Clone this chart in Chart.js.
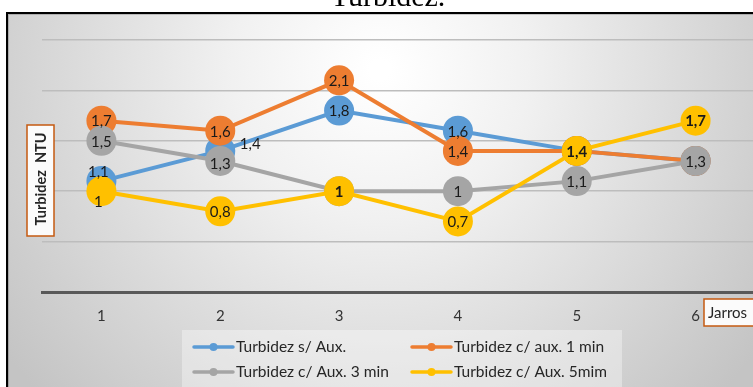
<!DOCTYPE html>
<html>
<head>
<meta charset="utf-8">
<script src="https://cdn.jsdelivr.net/npm/chart.js@4.4.1/dist/chart.umd.min.js"></script>
<style>
  html, body { margin: 0; padding: 0; overflow: hidden; background: #ffffff; }
  canvas { display: block; }
</style>
</head>
<body>
<canvas id="c" width="780" height="387"></canvas>
<script>
// Jarros (jar test) on the category axis
const jarros = ['1', '2', '3', '4', '5', '6'];

// Turbidity readings (NTU) per jar
const semAux    = [1.1, 1.4, 1.8, 1.6, 1.4, 1.3];
const aux1min   = [1.7, 1.6, 2.1, 1.4, 1.4, 1.3];
const aux3min   = [1.5, 1.3, 1.0, 1.0, 1.1, 1.3];
const aux5min   = [1.0, 0.8, 1.0, 0.7, 1.4, 1.7];

const seriesNames = [
  'Turbidez s/ Aux.',
  'Turbidez c/ aux. 1 min',
  'Turbidez c/ Aux. 3 min',
  'Turbidez c/ Aux. 5mim'
];

const titleText = 'Turbidez.';
const yTitle = 'Turbidez  NTU';
const xTitle = 'Jarros';

// Styling
const colors = ['#5b9bd5', '#ed7d31', '#a5a5a5', '#ffc000'];
const FONT = 'Lato, "Open Sans", sans-serif';

// Nudges for labels that would otherwise collide (pixels, per series / point)
const labelNudge = [
  [[-3, -10], [30, -8], [0, 0], [0, 0], [0, 0], [0, 0]],
  [[0, 0], [0, 0], [0, 0], [0, 0], [0, 0], [0, 0]],
  [[0, 0], [0, 2], [0, 0], [0, 0], [0, 0], [0, 0]],
  [[-3, 10], [0, 0], [0, 0], [0, 0], [0, 0], [0, 0]]
];
const labelBold = [
  [false, false, false, false, false, false],
  [false, false, false, false, false, false],
  [false, false, false, false, false, false],
  [false, false, true, false, true, true]
];

const fmt = v => String(v).replace('.', ',');

// Panel background, frame and page title
const backdrop = {
  id: 'backdrop',
  beforeDraw(chart) {
    const ctx = chart.ctx;
    const W = chart.width, H = chart.height;
    ctx.save();
    ctx.fillStyle = '#ffffff';
    ctx.fillRect(0, 0, W, H);
    const g = ctx.createRadialGradient(380, 70, 10, 380, 70, 470);
    g.addColorStop(0, '#ffffff');
    g.addColorStop(0.3, '#f1f1f1');
    g.addColorStop(1, '#c4c4c4');
    ctx.fillStyle = g;
    ctx.fillRect(7, 13, W - 7, H - 13);
    ctx.strokeStyle = '#000000';
    ctx.lineWidth = 2;
    ctx.beginPath();
    ctx.moveTo(7, H + 2);
    ctx.lineTo(7, 13);
    ctx.lineTo(W + 2, 13);
    ctx.stroke();
    ctx.strokeStyle = 'rgba(0,0,0,0.18)';
    ctx.lineWidth = 1;
    ctx.beginPath();
    ctx.moveTo(8.5, H);
    ctx.lineTo(8.5, 14.5);
    ctx.lineTo(W, 14.5);
    ctx.stroke();

    ctx.fillStyle = '#000000';
    ctx.font = '30px "Liberation Serif", "DejaVu Serif", serif';
    ctx.textAlign = 'center';
    ctx.textBaseline = 'alphabetic';
    ctx.fillText(titleText, 388, 6);
    ctx.restore();
  }
};

// Value labels, axis title boxes and legend
const overlay = {
  id: 'overlay',
  afterDatasetsDraw(chart) {
    const ctx = chart.ctx;
    const sets = chart.data.datasets;
    ctx.save();
    ctx.textAlign = 'center';
    ctx.textBaseline = 'middle';
    ctx.fillStyle = '#1a1a1a';
    sets.forEach((ds, di) => {
      const meta = chart.getDatasetMeta(di);
      meta.data.forEach((pt, i) => {
        // a later series sitting on the same value covers this marker and label
        const covered = sets.slice(di + 1).some(o => o.data[i] === ds.data[i]);
        if (covered) return;
        const [dx, dy] = labelNudge[di][i];
        ctx.font = (labelBold[di][i] ? 'bold ' : '') + '15px ' + FONT;
        ctx.fillText(fmt(ds.data[i]), pt.x + dx, pt.y + dy + 1);
      });
    });
    ctx.restore();
  },
  afterDraw(chart) {
    const ctx = chart.ctx;
    ctx.save();

    // Y axis title box
    ctx.fillStyle = '#fbfbfb';
    ctx.fillRect(27, 125, 27, 111);
    ctx.strokeStyle = '#c55a11';
    ctx.lineWidth = 1.5;
    ctx.strokeRect(27, 125, 27, 111);
    ctx.translate(41, 179);
    ctx.rotate(-Math.PI / 2);
    ctx.fillStyle = '#262626';
    ctx.font = 'bold 14.5px ' + FONT;
    ctx.textAlign = 'center';
    ctx.textBaseline = 'middle';
    ctx.fillText(yTitle, 0, 0);
    ctx.setTransform(1, 0, 0, 1, 0, 0);

    // X axis title box
    ctx.fillStyle = '#fbfbfb';
    ctx.fillRect(704, 299, 70, 27);
    ctx.strokeStyle = '#c55a11';
    ctx.strokeRect(704, 299, 70, 27);
    ctx.fillStyle = '#262626';
    ctx.font = '15px ' + FONT;
    ctx.textAlign = 'left';
    ctx.textBaseline = 'middle';
    ctx.fillText(xTitle, 708, 313);

    // Legend
    ctx.fillStyle = 'rgba(255,255,255,0.35)';
    ctx.fillRect(182, 330, 440, 60);
    const cols = [194, 412];
    const rows = [347, 372];
    chart.data.datasets.forEach((ds, di) => {
      const x = cols[di % 2];
      const y = rows[Math.floor(di / 2)];
      ctx.strokeStyle = ds.borderColor;
      ctx.lineWidth = 3.5;
      ctx.lineCap = 'round';
      ctx.beginPath();
      ctx.moveTo(x, y);
      ctx.lineTo(x + 39, y);
      ctx.stroke();
      ctx.fillStyle = ds.borderColor;
      ctx.beginPath();
      ctx.arc(x + 19.5, y, 4, 0, Math.PI * 2);
      ctx.fill();
      ctx.fillStyle = '#262626';
      ctx.font = '15.5px ' + FONT;
      ctx.textAlign = 'left';
      ctx.fillText(ds.label, x + 42, y);
    });
    ctx.restore();
  }
};

const values = [semAux, aux1min, aux3min, aux5min];

new Chart(document.getElementById('c'), {
  type: 'line',
  data: {
    labels: jarros,
    datasets: values.map((vals, i) => ({
      label: seriesNames[i],
      data: vals,
      borderColor: colors[i],
      backgroundColor: colors[i],
      pointBackgroundColor: colors[i],
      pointBorderColor: colors[i],
      borderWidth: 4,
      pointRadius: 15,
      pointBorderWidth: 0,
      pointHoverRadius: 15,
      tension: 0,
      fill: false,
      order: 3 - i
    }))
  },
  options: {
    responsive: false,
    animation: false,
    devicePixelRatio: 1,
    layout: { padding: { left: 42, right: 25, top: 40, bottom: 0 } },
    plugins: {
      legend: { display: false },
      title: { display: false },
      tooltip: { enabled: false }
    },
    scales: {
      x: {
        type: 'category',
        offset: true,
        grid: { display: false },
        border: { display: true, color: '#595959', width: 3 },
        ticks: {
          color: '#333333',
          font: { family: FONT, size: 15 },
          padding: 7,
          maxRotation: 0
        },
        afterFit(scale) { scale.height = 95; }
      },
      y: {
        min: 0,
        max: 2.5,
        ticks: { display: false, stepSize: 0.5 },
        border: { display: false },
        grid: { color: '#bdbdbd', lineWidth: 1.5, drawTicks: false },
        afterFit(scale) { scale.width = 0; }
      }
    }
  },
  plugins: [backdrop, overlay]
});
</script>
</body>
</html>
